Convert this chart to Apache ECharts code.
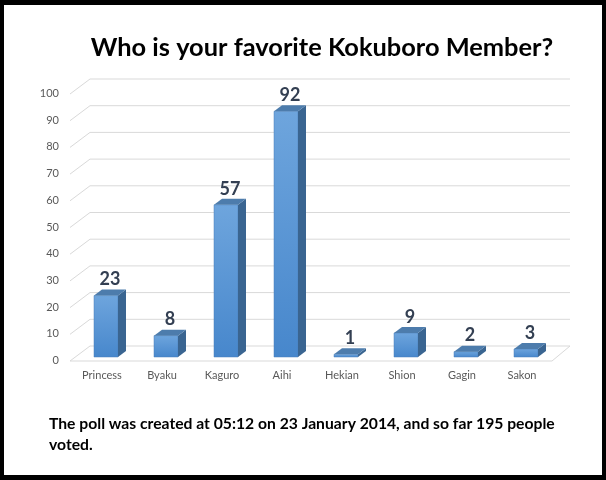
<!DOCTYPE html>
<html><head><meta charset="utf-8">
<script src="https://cdn.jsdelivr.net/npm/echarts@6/dist/echarts.min.js"></script>
<style>
html,body{margin:0;padding:0;background:#fff;}
#wrap{position:relative;width:606px;height:480px;}
#c{width:606px;height:480px;}
#frame{position:absolute;left:0;top:0;width:606px;height:480px;box-sizing:border-box;border-style:solid;border-color:#000;border-width:5px 4px 5px 4px;pointer-events:none;}
</style></head>
<body>
<div id="wrap"><div id="c"></div><div id="frame"></div></div>
<script>
const categories = ['Princess','Byaku','Kaguro','Aihi','Hekian','Shion','Gagin','Sakon'];
const votes = [23, 8, 57, 92, 1, 9, 2, 3];
const yTicks = [0,10,20,30,40,50,60,70,80,90,100];
const titleText = 'Who is your favorite Kokuboro Member?';
const footerText = 'The poll was created at 05:12 on 23 January 2014, and so far 195 people\nvoted.';

const FONT = 'Lato, "Open Sans", sans-serif';
const chart = echarts.init(document.getElementById('c'), null, {renderer:'canvas'});

const barData = categories.map((c,i)=>[i, votes[i]]);
const gridData = yTicks.map(v=>[0, v]);

const option = {
  animation:false,
  backgroundColor:'#fff',
  grid:{left:76, right:50, top:90, bottom:123},
  xAxis:{type:'category', data:categories, axisLine:{show:false}, axisTick:{show:false},
    axisLabel:{color:'#595959', fontFamily:FONT, fontSize:11, margin:13, padding:[0,8,0,0]}},
  yAxis:{type:'value', min:0, max:100, interval:10, splitLine:{show:false}, axisLine:{show:false}, axisTick:{show:false},
    axisLabel:{color:'#595959', fontFamily:FONT, fontSize:11, margin:17, verticalAlign:'top', padding:[-2,0,0,0]}},
  graphic:[
    {type:'text', x:322, y:48, style:{text:titleText, textAlign:'center', textVerticalAlign:'middle', fill:'#000', font:'bold 25.4px '+FONT}},
    {type:'text', x:49, y:413, style:{text:footerText, textAlign:'left', textVerticalAlign:'top', fill:'#000', font:'bold 15.7px '+FONT, lineHeight:21}}
  ],
  series:[
    {type:'custom', data:gridData, z:1, silent:true,
     renderItem:function(params, api){
       const v = api.value(1);
       const p = api.coord([0, v]);
       const band = api.size([1,0])[0];
       const left = p[0]-band/2;
       const right = api.coord([categories.length-1, v])[0]+band/2;
       const y = p[1];
       const st = {stroke:'#d9d9d9', lineWidth:1, fill:null};
       const children = [
         {type:'polyline', shape:{points:[[left-6,y+4],[left+14,y-11],[right+14,y-11]]}, style:st}
       ];
       if (v===0){
         children.push({type:'polyline', shape:{points:[[left-6,y+4],[right-4,y+4],[right+14,y-11]]}, style:st});
       }
       return {type:'group', children:children};
     }},
    {type:'custom', data:barData, z:5,
     renderItem:function(params, api){
       const v = api.value(1);
       const top = api.coord([api.value(0), v]);
       const base = api.coord([api.value(0), 0]);
       const w = api.size([1,0])[0]*0.4;
       const x0 = top[0]-w/2, x1 = top[0]+w/2;
       const dx=8, dy=6;
       const ty = top[1], by = base[1];
       return {type:'group', children:[
         {type:'rect', shape:{x:x0, y:ty, width:w, height:by-ty},
          style:{fill:new echarts.graphic.LinearGradient(0,0,0,1,[{offset:0,color:'#6ea5dd'},{offset:1,color:'#4787cc'}]), stroke:'#4a7fb8', lineWidth:0.5}},
         {type:'polygon', shape:{points:[[x1,ty],[x1+dx,ty-dy],[x1+dx,by-dy],[x1,by]]},
          style:{fill:'#3a6591'}},
         {type:'polygon', shape:{points:[[x0,ty],[x0+dx,ty-dy],[x1+dx,ty-dy],[x1,ty]]},
          style:{fill:'#4d7cac'}},
         {type:'text', style:{text:String(v), x:top[0]+dx/2, y:ty-dy-1, textAlign:'center', textVerticalAlign:'bottom',
            fill:'#333f52', font:'bold 18px '+FONT}}
       ]};
     }}
  ]
};
chart.setOption(option);
</script>
</body></html>
